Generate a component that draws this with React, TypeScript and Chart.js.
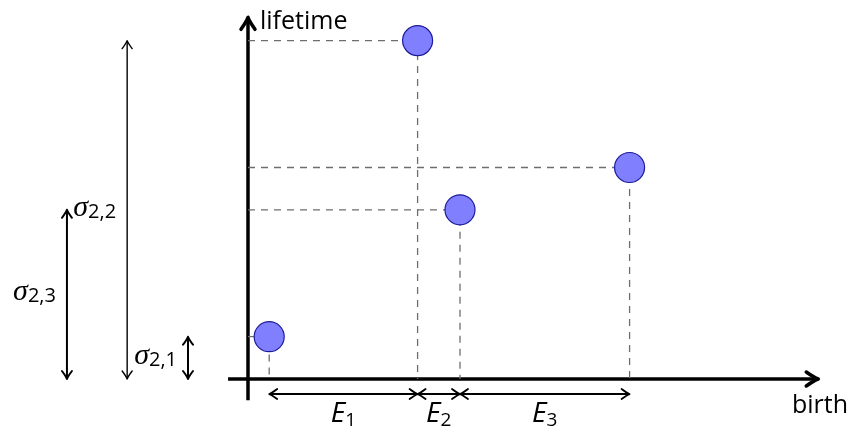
import React, { useEffect, useRef } from "react";
import { Chart, registerables } from "chart.js";

Chart.register(...registerables);

// ---- data ----
const pointNames = ["p1", "p2", "p3", "p4"];
const births = [0.5, 4, 5, 9];
const lifetimes = [1, 8, 4, 5];
const eLabels = ["1", "2", "3"]; // E_1, E_2, E_3 between consecutive births
const sigmaLabels = ["2,1", "2,2", "2,3"]; // sigma_{2,i} = lifetime of point i
const axisLabels = { x: "birth", y: "lifetime" };

// ---- layout (data units) ----
const X_MIN = -5.849, X_MAX = 14.175;
const Y_MIN = -1.2057, Y_MAX = 8.96;
const X_AXIS_FROM = -0.47, X_AXIS_TO = 13.45;
const Y_AXIS_FROM = -0.5, Y_AXIS_TO = 8.55;
const E_ROW_Y = -0.355;
const SIGMA_X = [-1.415, -2.85, -4.27];
const SIGMA_LW = [2, 1.4, 2];

const SANS = '"Open Sans", "DejaVu Sans", sans-serif';
const SERIF = '"Liberation Serif", "DejaVu Serif", serif';

function arrowHead(ctx: CanvasRenderingContext2D, x: number, y: number, dx: number, dy: number, len: number, spread: number, lw: number) {
  const nx = -dy, ny = dx;
  ctx.save();
  ctx.lineWidth = lw;
  ctx.lineCap = "round";
  ctx.lineJoin = "round";
  ctx.beginPath();
  ctx.moveTo(x - dx * len + nx * spread, y - dy * len + ny * spread);
  ctx.quadraticCurveTo(x - dx * len * 0.3 + nx * spread * 0.15, y - dy * len * 0.3 + ny * spread * 0.15, x, y);
  ctx.quadraticCurveTo(x - dx * len * 0.3 - nx * spread * 0.15, y - dy * len * 0.3 - ny * spread * 0.15, x - dx * len - nx * spread, y - dy * len - ny * spread);
  ctx.stroke();
  ctx.restore();
}

function dblArrow(ctx: CanvasRenderingContext2D, x1: number, y1: number, x2: number, y2: number, lw: number) {
  const L = Math.hypot(x2 - x1, y2 - y1);
  const dx = (x2 - x1) / L, dy = (y2 - y1) / L;
  ctx.save();
  ctx.lineWidth = lw;
  ctx.strokeStyle = "#000";
  ctx.beginPath();
  ctx.moveTo(x1 + dx * 1, y1 + dy * 1);
  ctx.lineTo(x2 - dx * 1, y2 - dy * 1);
  ctx.stroke();
  arrowHead(ctx, x2, y2, dx, dy, 8, 5, lw);
  arrowHead(ctx, x1, y1, -dx, -dy, 8, 5, lw);
  ctx.restore();
}

function subText(ctx: CanvasRenderingContext2D, main: string, mainFont: string, sub: string, subFont: string, x: number, baseline: number, align: "left" | "center" | "right", subDrop: number) {
  ctx.save();
  ctx.textAlign = "left";
  ctx.textBaseline = "alphabetic";
  ctx.font = mainFont;
  const w1 = ctx.measureText(main).width;
  ctx.font = subFont;
  const w2 = ctx.measureText(sub).width;
  const total = w1 + w2;
  let left = x;
  if (align === "center") left = x - total / 2;
  else if (align === "right") left = x - total;
  ctx.fillStyle = "#000";
  ctx.font = mainFont;
  ctx.fillText(main, left, baseline);
  ctx.font = subFont;
  ctx.fillText(sub, left + w1, baseline + subDrop);
  ctx.restore();
}

const decorPlugin = {
  id: "decor",
  beforeDatasetsDraw(chart: any) {
    const ctx: CanvasRenderingContext2D = chart.ctx;
    const xs = chart.scales.x, ys = chart.scales.y;
    const X = (v: number) => xs.getPixelForValue(v);
    const Y = (v: number) => ys.getPixelForValue(v);
    ctx.save();
    ctx.strokeStyle = "#000";
    ctx.fillStyle = "#000";
    ctx.lineWidth = 3.5;
    // x axis
    ctx.beginPath();
    ctx.moveTo(X(X_AXIS_FROM), Y(0));
    ctx.lineTo(X(X_AXIS_TO) - 2, Y(0));
    ctx.stroke();
    arrowHead(ctx, X(X_AXIS_TO), Y(0), 1, 0, 12, 7, 3.5);
    // y axis
    ctx.beginPath();
    ctx.moveTo(X(0), Y(Y_AXIS_FROM));
    ctx.lineTo(X(0), Y(Y_AXIS_TO) + 2);
    ctx.stroke();
    arrowHead(ctx, X(0), Y(Y_AXIS_TO), 0, -1, 12, 7, 3.5);
    ctx.restore();
  },
  afterDatasetsDraw(chart: any) {
    const ctx: CanvasRenderingContext2D = chart.ctx;
    const xs = chart.scales.x, ys = chart.scales.y;
    const X = (v: number) => xs.getPixelForValue(v);
    const Y = (v: number) => ys.getPixelForValue(v);
    // axis labels
    ctx.save();
    ctx.fillStyle = "#000";
    ctx.font = `25px ${SANS}`;
    ctx.textBaseline = "alphabetic";
    ctx.textAlign = "left";
    ctx.fillText(axisLabels.y, X(0) + 12, Y(Y_AXIS_TO) + 12);
    ctx.textAlign = "right";
    ctx.fillText(axisLabels.x, 848, Y(0) + 34);
    ctx.restore();
    // E arrows and labels
    for (let i = 0; i < eLabels.length; i++) {
      const a = X(births[i]), b = X(births[i + 1]);
      dblArrow(ctx, a, Y(E_ROW_Y), b, Y(E_ROW_Y), 1.8);
      subText(ctx, "E", `italic 28px ${SANS}`, eLabels[i], `19px ${SANS}`, (a + b) / 2, Y(E_ROW_Y) + 28, "center", 4);
    }
    // sigma arrows and labels
    for (let i = 0; i < sigmaLabels.length; i++) {
      const x = X(SIGMA_X[i]);
      const top = Y(lifetimes[i]), bot = Y(0);
      dblArrow(ctx, x, bot, x, top, SIGMA_LW[i]);
      subText(ctx, "σ", `italic 30px ${SERIF}`, sigmaLabels[i], `20px ${SANS}`, x - 11, (top + bot) / 2 + 6, "right", 2);
    }
  },
};

export default function App() {
  const ref = useRef<HTMLCanvasElement | null>(null);
  useEffect(() => {
    document.body.style.margin = "0";
    const guideSets = births.map((b, i) => ({
      label: pointNames[i] + "-guide",
      type: "line" as const,
      data: [
        { x: 0, y: lifetimes[i] },
        { x: b, y: lifetimes[i] },
        { x: b, y: 0 },
      ],
      borderColor: "#6e6e6e",
      borderWidth: 1.3,
      borderDash: [7, 6],
      pointRadius: 0,
      fill: false,
      tension: 0,
      order: 2,
    }));
    const chart = new Chart(ref.current as HTMLCanvasElement, {
      type: "scatter",
      data: {
        datasets: [
          {
            label: "points",
            data: births.map((b, i) => ({ x: b, y: lifetimes[i] })),
            backgroundColor: "#8080ff",
            borderColor: "#1c1c9a",
            borderWidth: 1.2,
            pointRadius: 15,
            pointHoverRadius: 15,
            order: 1,
          },
          ...guideSets,
        ] as any,
      },
      options: {
        animation: false,
        responsive: false,
        maintainAspectRatio: false,
        layout: { padding: 0, autoPadding: false },
        events: [],
        plugins: { legend: { display: false }, tooltip: { enabled: false } },
        scales: {
          x: { type: "linear", min: X_MIN, max: X_MAX, display: false },
          y: { type: "linear", min: Y_MIN, max: Y_MAX, display: false },
        },
      },
      plugins: [decorPlugin],
    });
    return () => chart.destroy();
  }, []);
  return (
    <div style={{ width: 849, height: 430, position: "relative" }}>
      <canvas ref={ref} width={849} height={430} style={{ display: "block", width: 849, height: 430 }} />
    </div>
  );
}
